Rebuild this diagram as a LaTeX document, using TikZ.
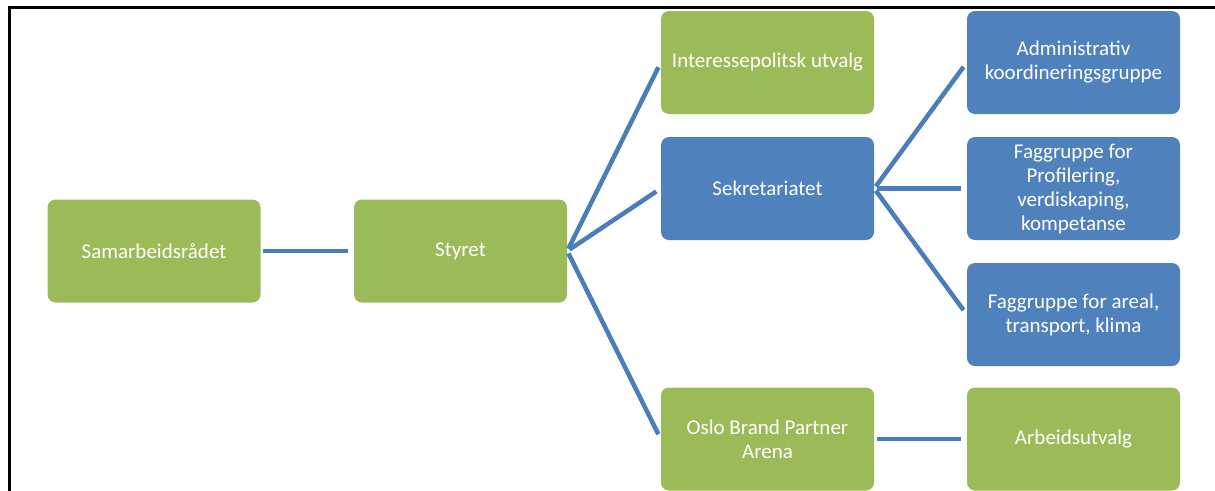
\documentclass[tikz,border=0pt]{standalone}
\usepackage{fontspec}
\setmainfont{Carlito}

\definecolor{boxgreen}{RGB}{155,187,89}
\definecolor{boxblue}{RGB}{79,129,189}
\definecolor{linkblue}{RGB}{74,126,184}

\begin{document}
\begin{tikzpicture}[x=0.75pt, y=-0.75pt,
    every node/.append style={font=\fontsize{15.75}{18}\selectfont, text=white, align=center},
    orgbox/.style={rounded corners=6pt, minimum width=159.75pt, minimum height=77.25pt, inner sep=0pt},
    greenbox/.style={orgbox, fill=boxgreen},
    bluebox/.style={orgbox, fill=boxblue},
    link/.style={draw=linkblue, line width=3.4pt, shorten <=2pt, shorten >=4pt}]

    \useasboundingbox (0,0) rectangle (1215,490);

    \def\ca{154}        % x of the first column
    \def\cb{460.5}
    \def\cc{767.5}
    \def\cd{1073.5}     % x of the last column

    % frame of the page
    \draw[line width=2.25pt]
        (9,495) -- (9,7.5) -- (1220,7.5)
    ;

    \node[greenbox] (samarbeid) at (\ca,251) {Samarbeidsrådet};
    \node[greenbox] (styret)    at (\cb,251) {Styret};

    \node[greenbox] (interesse) at (\cc,62.5)  {Interessepolitsk utvalg};
    \node[bluebox]  (sekretar)  at (\cc,188.5) {Sekretariatet};
    \node[greenbox] (oslobrand) at (\cc,439)   {Oslo Brand Partner\\Arena};

    \node[bluebox]  (admin)     at (\cd,62.5)  {Administrativ\\koordineringsgruppe};
    \node[bluebox]  (profil)    at (\cd,188.5) {Faggruppe for\\Profilering,\\verdiskaping,\\kompetanse};
    \node[bluebox]  (areal)     at (\cd,314.5) {Faggruppe for areal,\\transport, klima};
    \node[greenbox] (arbeid)    at (\cd,439)   {Arbeidsutvalg};

    \draw[link] (samarbeid) -- (styret);

    \draw[link] (styret.east) -- (interesse.west);
    \draw[link] (styret.east) -- (sekretar.west);
    \draw[link] (styret.east) -- (oslobrand.west);

    \draw[link] (sekretar.east) -- (admin.west);
    \draw[link] (sekretar.east) -- (profil.west);
    \draw[link] (sekretar.east) -- (areal.west);

    \draw[link] (oslobrand) -- (arbeid);

\end{tikzpicture}
\end{document}
